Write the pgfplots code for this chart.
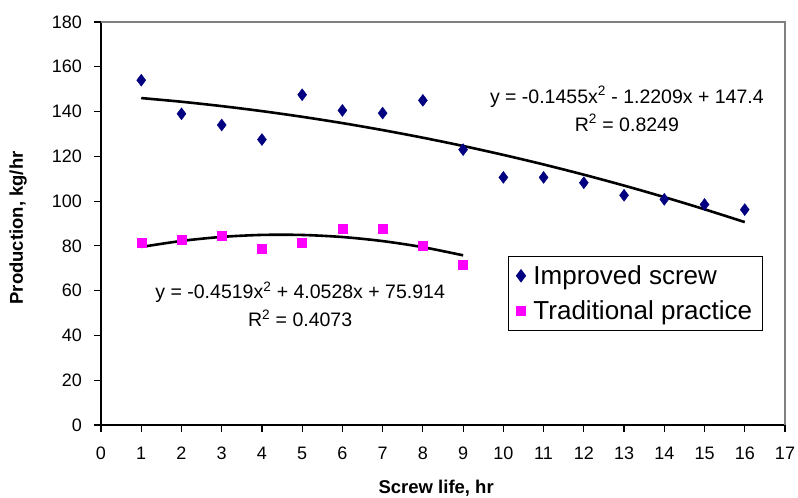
\documentclass[border=0pt]{standalone}
\usepackage{fontspec}
\setmainfont{Liberation Sans}
\usepackage{pgfplots}
\pgfplotsset{compat=1.18}
\definecolor{improved}{RGB}{0,0,128}
\definecolor{traditional}{RGB}{255,0,255}
\definecolor{framegray}{RGB}{128,128,128}

\begin{document}
\begin{tikzpicture}[x=1pt,y=1pt]
\useasboundingbox (0,0) rectangle (798,498);
\begin{axis}[
  at={(101pt,73pt)}, anchor=south west,
  scale only axis, width=684pt, height=403pt,
  xmin=0, xmax=17, ymin=0, ymax=180,
  xtick={0,1,...,17}, ytick={0,20,...,180},
  axis x line*=bottom, axis y line*=left,
  axis line style={black, line width=1.6pt, -},
  tick align=outside, major tick length=6.5pt,
  tick style={black, line width=1.2pt},
  /pgf/number format/assume math mode=true,
  tick label style={font=\fontsize{18}{21}\selectfont},
  xticklabel style={yshift=-12pt},
  yticklabel style={xshift=-9pt},
  xlabel={\bfseries Screw life, hr},
  ylabel={\bfseries Production, kg/hr},
  label style={font=\fontsize{18.5}{21}\selectfont},
  xlabel style={at={(axis description cs:0.49,-0.156)}, anchor=center},
  ylabel style={at={(axis description cs:-0.121,0.489)}, anchor=center},
  legend style={at={(rel axis cs:0.595,0.419)}, anchor=north west,
    draw=black, line width=1pt, font=\fontsize{26}{30}\selectfont,
    row sep=11pt, inner xsep=8pt, inner ysep=7pt,
    legend cell align=left},
  clip=false,
]
% plot frame, top and right in gray
\draw[framegray, line width=1.6pt] (axis cs:0,180) -- (axis cs:17,180) -- (axis cs:17,0);

% trend lines (values of the fitted polynomials)
\addplot[black, line width=2.6pt, smooth, forget plot] coordinates {
  (1,146.03)(2,144.38)(3,142.43)(4,140.19)(5,137.66)(6,134.84)(7,131.72)(8,128.32)
  (9,124.63)(10,120.64)(11,116.37)(12,111.80)(13,106.94)(14,101.79)(15,96.35)(16,90.62)
};
\addplot[black, line width=2.6pt, smooth, forget plot] coordinates {
  (1,79.52)(2,82.21)(3,84.01)(4,84.90)(5,84.88)(6,83.96)(7,82.14)(8,79.42)(9,75.79)
};

\addplot[only marks, mark=diamond*, mark size=6pt, draw=improved, fill=improved] coordinates {
  (1,154)(2,139)(3,134)(4,127.5)(5,147.5)(6,140.5)(7,139.3)(8,145)
  (9,123)(10,110.6)(11,110.6)(12,108.2)(13,102.6)(14,100.8)(15,98.5)(16,96.2)
};
\addlegendentry{\hspace{6pt}Improved screw}
\addplot[only marks, mark=square*, mark size=4.5pt, draw=traditional, fill=traditional] coordinates {
  (1,81.6)(2,82.6)(3,84.4)(4,78.9)(5,81.6)(6,87.8)(7,87.8)(8,80)(9,71.8)
};
\addlegendentry{\hspace{6pt}Traditional practice}

\node[align=center, font=\fontsize{19.5}{28}\selectfont] at (axis cs:13.07,141.1)
  {y = -0.1455x\textsuperscript{2} - 1.2209x + 147.4\\R\textsuperscript{2} = 0.8249};
\node[align=center, font=\fontsize{19.5}{28}\selectfont] at (axis cs:4.95,54.0)
  {y = -0.4519x\textsuperscript{2} + 4.0528x + 75.914\\R\textsuperscript{2} = 0.4073};
\end{axis}
\end{tikzpicture}
\end{document}
